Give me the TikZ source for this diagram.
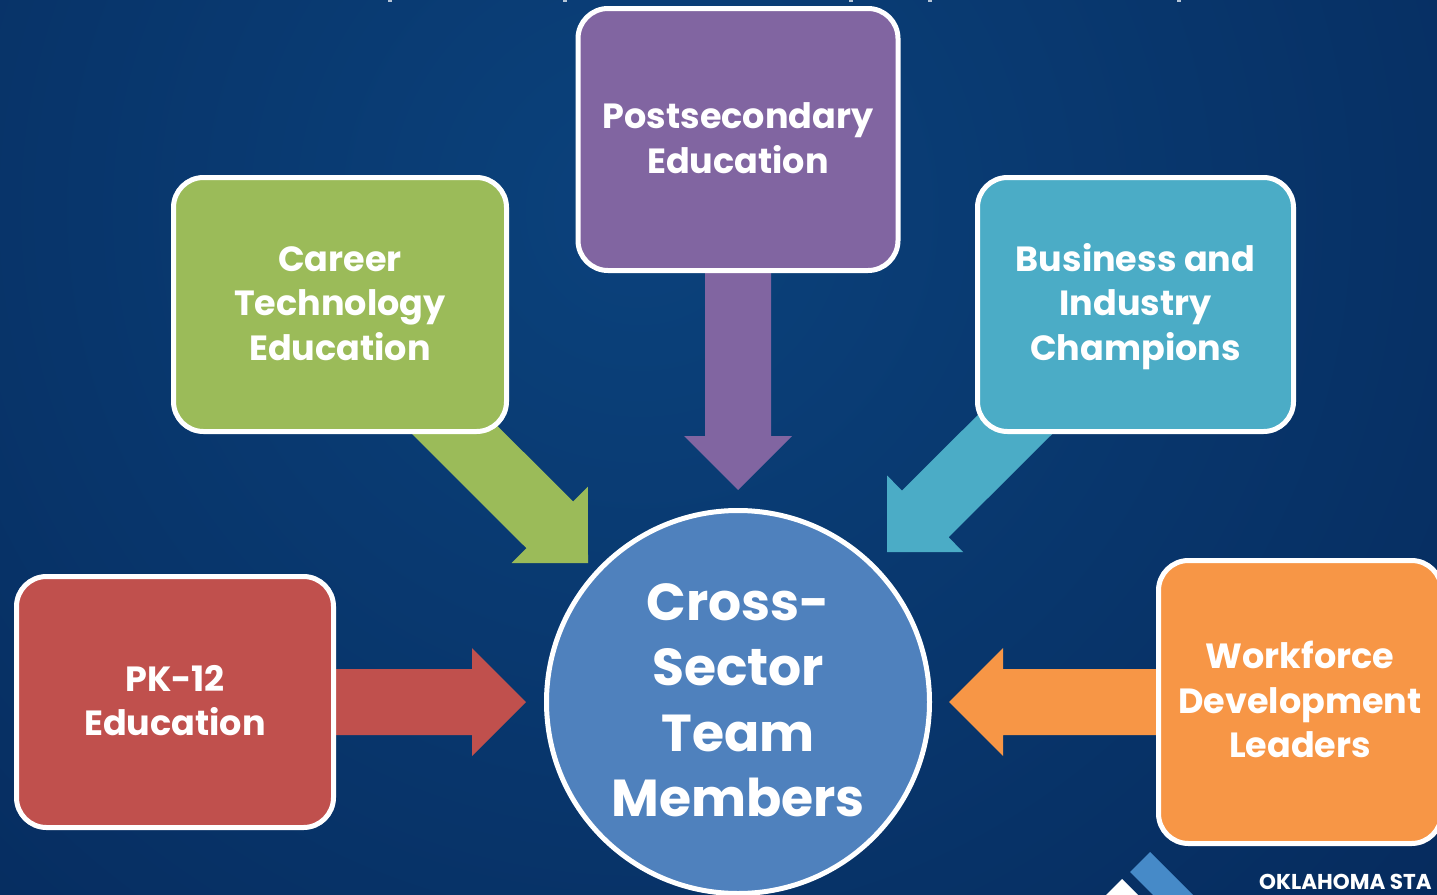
\documentclass[tikz,border=0pt]{standalone}
\usepackage{fontspec}
\setmainfont{Poppins}
\usetikzlibrary{calc}
\definecolor{bgin}{HTML}{0B427C}
\definecolor{bgout}{HTML}{03204F}
\definecolor{cpurple}{HTML}{8165A1}
\definecolor{cgreen}{HTML}{9BBB59}
\definecolor{cteal}{HTML}{4BACC6}
\definecolor{cred}{HTML}{C0504D}
\definecolor{corange}{HTML}{F79646}
\definecolor{ccircle}{HTML}{4F81BD}
\definecolor{clogo}{HTML}{468AC8}
\pgfdeclareradialshading{bgshade}{\pgfpointorigin}{color(0bp)=(bgin); color(30bp)=(bgout); color(100bp)=(bgout)}
\pgfdeclarelayer{back}
\pgfdeclarelayer{conn}
\pgfsetlayers{back,conn,main}
\newcommand{\blockarrow}[3]{%
  \fill[#1] (#3)
    -- ($($(#3)!54pt!(#2)$)!54pt!90:(#2)$)
    -- ($($(#3)!54pt!(#2)$)!33pt!90:(#2)$)
    -- ($(#2)!33pt!-90:(#3)$)
    -- ($(#2)!33pt!90:(#3)$)
    -- ($($(#3)!54pt!(#2)$)!33pt!-90:(#2)$)
    -- ($($(#3)!54pt!(#2)$)!54pt!-90:(#2)$)
    -- cycle;}
\newcommand{\boxtop}{\rule{0pt}{36pt}}
\newcommand{\hubtop}{\rule{0pt}{53pt}}
\tikzset{
  box/.style={draw=white,line width=5pt,rounded corners=30pt,inner sep=0pt,outer sep=0pt,align=center,text=white,
    font=\fontsize{35}{44.5}\selectfont\bfseries,execute at end node=\strut},
  hub/.style={circle,draw=white,line width=5pt,fill=ccircle,inner sep=0pt,outer sep=0pt,align=center,text=white,minimum size=383pt,
    font=\fontsize{52}{65.5}\selectfont\bfseries,execute at end node=\strut},
  crumb/.style={fill=white!70!bgin,draw=none},
}
\begin{document}
\begin{tikzpicture}[x=1pt,y=-1pt]
\useasboundingbox (0,0) rectangle (1437,894);
\begin{pgfonlayer}{back}
  \shade[shading=bgshade] (640,210) circle[radius=1300pt];
  \foreach \tx in {390,565,851,930,1179}{\fill[crumb] (\tx-2,0) rectangle (\tx+2,2);}
\end{pgfonlayer}
\node[box,fill=cpurple,minimum width=320pt,minimum height=262pt] (purple) at (738,139.5) {\boxtop Postsecondary\\Education};
\node[box,fill=cgreen,minimum width=333pt,minimum height=254pt] (green) at (340,304.5) {\boxtop Career\\Technology\\Education};
\node[box,fill=cteal,minimum width=316pt,minimum height=254pt] (teal) at (1135.5,304.5) {\boxtop Business and\\Industry\\Champions};
\node[box,fill=cred,minimum width=317pt,minimum height=251pt] (red) at (175,702) {\boxtop PK-12\\Education};
\node[box,fill=corange,minimum width=283pt,minimum height=283pt] (orange) at (1300,702) {\boxtop Workforce\\Development\\Leaders};
\node[hub] (hub) at (738,702) {\hubtop Cross-\\Sector\\Team\\Members};
\coordinate (tpurple) at (738,490);
\coordinate (tgreen) at (588,563);
\coordinate (sgreen) at ($(green.center)+(-11,0)$);
\coordinate (tteal) at (887,552);
\coordinate (tred) at (526,702);
\coordinate (torange) at (949,702);
\begin{pgfonlayer}{conn}
  \blockarrow{cpurple}{purple.center}{tpurple}
  \blockarrow{cgreen}{sgreen}{tgreen}
  \blockarrow{cteal}{teal.center}{tteal}
  \blockarrow{cred}{red.center}{tred}
  \blockarrow{corange}{orange.center}{torange}
\end{pgfonlayer}
\fill[clogo] (1150,852) -- (1130,872) -- (1173,915) -- (1195,897) -- cycle;
\fill[white] (1122,879) -- (1105,896) -- (1139,896) -- cycle;
\node[anchor=base west,inner sep=0pt,text=white,font=\fontsize{21.5}{22}\selectfont\bfseries] (brand) at (1259,889) {OKLAHOMA STA};
\end{tikzpicture}
\end{document}
